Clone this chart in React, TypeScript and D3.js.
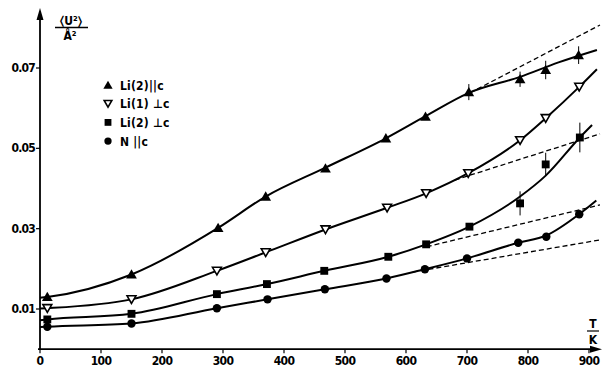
import * as d3 from "d3";

// temperature ticks (K) and mean-square displacement ticks (Å²)
const T_TICKS = [0, 100, 200, 300, 400, 500, 600, 700, 800, 900];
const U_TICKS = [0.01, 0.03, 0.05, 0.07];
const U_TICK_LABELS = ["0.01", "0.03", "0.05", "0.07"];

// measured points
const li2ParT = [12, 150, 292, 370, 468, 567, 632, 703, 787, 829, 883];
const li2ParU = [0.013, 0.0186, 0.0302, 0.038, 0.045, 0.0525, 0.0579, 0.064, 0.0672, 0.0695, 0.0732];
const li2ParErr = [0, 0, 0, 0, 0, 0, 0, 0.002, 0.0019, 0.0023, 0.0022];

const li1PerpT = [12, 150, 290, 370, 468, 569, 633, 702, 787, 829, 884];
const li1PerpU = [0.0102, 0.0124, 0.0195, 0.0241, 0.0298, 0.0352, 0.0388, 0.0438, 0.052, 0.0575, 0.0653];

const li2PerpT = [12, 150, 290, 372, 466, 571, 633, 704, 787, 829, 885];
const li2PerpU = [0.0074, 0.0088, 0.0137, 0.0162, 0.0195, 0.023, 0.0261, 0.0305, 0.0363, 0.046, 0.0527];
const li2PerpErr = [0, 0, 0, 0, 0, 0, 0, 0, 0.003, 0.0029, 0.0037];

const nParT = [12, 150, 290, 373, 467, 568, 631, 700, 784, 830, 884];
const nParU = [0.0056, 0.0064, 0.0102, 0.0124, 0.0149, 0.0176, 0.0199, 0.0226, 0.0265, 0.028, 0.0336];

// hand-drawn fit curves
const li2ParFitT = [0, 12, 150, 292, 370, 468, 567, 632, 703, 787, 850, 913];
const li2ParFitU = [0.0128, 0.013, 0.0186, 0.0302, 0.038, 0.0452, 0.0525, 0.058, 0.0638, 0.0678, 0.0714, 0.0745];
const li1PerpFitT = [0, 12, 150, 290, 370, 468, 569, 633, 702, 787, 829, 884, 913];
const li1PerpFitU = [0.0101, 0.0102, 0.0124, 0.0195, 0.0241, 0.0298, 0.0352, 0.0388, 0.0438, 0.052, 0.0575, 0.0653, 0.0697];
const li2PerpFitT = [0, 12, 150, 290, 372, 466, 571, 633, 704, 787, 829, 885, 905];
const li2PerpFitU = [0.0072, 0.0074, 0.0088, 0.0137, 0.0162, 0.0195, 0.023, 0.0261, 0.0305, 0.038, 0.0432, 0.0527, 0.0558];
const nParFitT = [0, 12, 150, 290, 373, 467, 568, 631, 700, 784, 830, 884, 912];
const nParFitU = [0.0055, 0.0056, 0.0064, 0.0102, 0.0124, 0.0149, 0.0176, 0.0199, 0.0226, 0.0265, 0.0283, 0.0336, 0.037];

// harmonic extrapolations (dashed): [T0, U0, T1, U1]
const li2ParHarm = [705, 0.0638, 918, 0.0807];
const li1PerpHarm = [680, 0.0421, 918, 0.0536];
const li2PerpHarm = [634, 0.0255, 918, 0.0359];
const nParHarm = [611, 0.0192, 918, 0.0272];

const LEGEND = ["Li(2)||c", "Li(1) \u22a5c", "Li(2) \u22a5c", "N   ||c"];

const FONT = "'DejaVu Sans Condensed', 'DejaVu Sans', sans-serif";
const W = 602;
const H = 371;

const x = d3.scaleLinear().domain([0, 900]).range([40, 589]);
const y = d3.scaleLinear().domain([0.01, 0.07]).range([309, 68]);

const series = [
  { T: li2ParT, U: li2ParU, err: li2ParErr, fitT: li2ParFitT, fitU: li2ParFitU, harm: li2ParHarm, mark: "up" },
  { T: li1PerpT, U: li1PerpU, err: null, fitT: li1PerpFitT, fitU: li1PerpFitU, harm: li1PerpHarm, mark: "down" },
  { T: li2PerpT, U: li2PerpU, err: li2PerpErr, fitT: li2PerpFitT, fitU: li2PerpFitU, harm: li2PerpHarm, mark: "square" },
  { T: nParT, U: nParU, err: null, fitT: nParFitT, fitU: nParFitU, harm: nParHarm, mark: "circle" },
];

const line = d3
  .line<[number, number]>()
  .x((d) => x(d[0]))
  .y((d) => y(d[1]))
  .curve(d3.curveMonotoneX);

function Marker({ kind, cx, cy, k = 1 }: { kind: string; cx: number; cy: number; k?: number }) {
  if (kind === "up") {
    const d = d3.symbol().type(d3.symbolTriangle).size(50 * k)()!;
    return <path d={d} transform={`translate(${cx},${cy + 1})`} fill="#000" />;
  }
  if (kind === "down") {
    const d = d3.symbol().type(d3.symbolTriangle).size(34 * k)()!;
    return <path d={d} transform={`translate(${cx},${cy - 1}) rotate(180)`} fill="#fff" stroke="#000" strokeWidth={1.6} />;
  }
  if (kind === "square") {
    const d = d3.symbol().type(d3.symbolSquare).size(62 * k)()!;
    return <path d={d} transform={`translate(${cx},${cy})`} fill="#000" />;
  }
  const d = d3.symbol().type(d3.symbolCircle).size(56 * k)()!;
  return <path d={d} transform={`translate(${cx},${cy})`} fill="#000" />;
}

export default function App() {
  const x0 = x(0);
  const y0 = y(0);
  return (
    <svg width={W} height={H} style={{ position: "absolute", left: 0, top: 0, background: "#fff" }} fontFamily={FONT}>
      {/* axes */}
      <line x1={x0} x2={x0} y1={y0} y2={18} stroke="#000" strokeWidth={1.8} />
      <path d={`M${x0 - 3.5},${20} L${x0},${8} L${x0 + 3.5},${20} Z`} fill="#000" />
      <line x1={x0 - 2} x2={592} y1={y0} y2={y0} stroke="#000" strokeWidth={1.8} />
      <path d={`M590,${y0 - 3.5} L602,${y0} L590,${y0 + 3.5} Z`} fill="#000" />

      {T_TICKS.map((t) => (
        <g key={t}>
          <line x1={x(t)} x2={x(t)} y1={y0} y2={y0 + 4} stroke="#000" strokeWidth={1.2} />
          <text x={x(t)} y={y0 + 16} textAnchor="middle" fontSize={12} fontWeight="bold" letterSpacing={-0.6}>
            {t}
          </text>
        </g>
      ))}
      {U_TICKS.map((u, i) => (
        <g key={u}>
          <line x1={x0 - 4} x2={x0} y1={y(u)} y2={y(u)} stroke="#000" strokeWidth={1.2} />
          <text x={x0 - 5} y={y(u) + 4} textAnchor="end" fontSize={12} fontWeight="bold" letterSpacing={-0.8}>
            {U_TICK_LABELS[i]}
          </text>
        </g>
      ))}

      {/* axis titles */}
      <text x={71} y={25} textAnchor="middle" fontSize={12} fontWeight="bold">
        {"\u2329U\u00b2\u232a"}
      </text>
      <line x1={55} x2={88} y1={27.5} y2={27.5} stroke="#000" strokeWidth={1.3} />
      <text x={70} y={40} textAnchor="middle" fontSize={12} fontWeight="bold">
        {"\u00c5\u00b2"}
      </text>
      <text x={593} y={328} textAnchor="middle" fontSize={12} fontWeight="bold">
        T
      </text>
      <line x1={587} x2={599} y1={331} y2={331} stroke="#000" strokeWidth={1.2} />
      <text x={593} y={344} textAnchor="middle" fontSize={12} fontWeight="bold">
        K
      </text>

      {/* dashed harmonic extrapolations */}
      {series.map((s, i) => (
        <line
          key={`h${i}`}
          x1={x(s.harm[0])}
          y1={y(s.harm[1])}
          x2={x(s.harm[2])}
          y2={y(s.harm[3])}
          stroke="#000"
          strokeWidth={1.3}
          strokeDasharray="5,3"
        />
      ))}

      {/* fit curves */}
      {series.map((s, i) => (
        <path
          key={`c${i}`}
          d={line(s.fitT.map((t, j) => [t, s.fitU[j]] as [number, number]))!}
          fill="none"
          stroke="#000"
          strokeWidth={2}
        />
      ))}

      {/* error bars */}
      {series.map((s, i) =>
        s.err
          ? s.T.map((t, j) =>
              s.err![j] > 0 ? (
                <line
                  key={`e${i}-${j}`}
                  x1={x(t)}
                  x2={x(t)}
                  y1={y(s.U[j] - s.err![j])}
                  y2={y(s.U[j] + s.err![j])}
                  stroke="#000"
                  strokeWidth={1}
                />
              ) : null
            )
          : null
      )}

      {/* points */}
      {series.map((s, i) =>
        s.T.map((t, j) => <Marker key={`p${i}-${j}`} kind={s.mark} cx={x(t)} cy={y(s.U[j])} />)
      )}

      {/* legend */}
      {series.map((s, i) => (
        <g key={`l${i}`}>
          <Marker kind={s.mark} cx={108} cy={85 + i * 18.7} k={0.75} />
          <text x={120} y={85 + i * 18.7 + 4.5} fontSize={12} fontWeight="bold" letterSpacing={0.2}>
            {LEGEND[i]}
          </text>
        </g>
      ))}
    </svg>
  );
}
